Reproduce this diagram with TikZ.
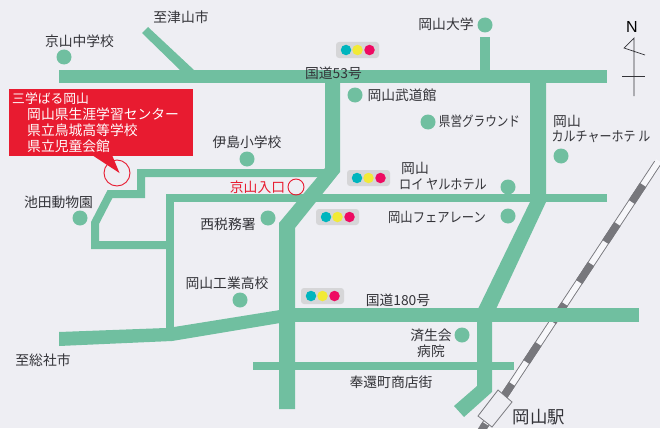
\documentclass[tikz,border=0pt]{standalone}
\usepackage{graphicx}
\usepackage{fontspec}
\setmainfont{Noto Sans CJK JP}
\newfontfamily\latinfont{Liberation Sans}
\definecolor{bgc}{HTML}{EEEEF3}
\definecolor{roadc}{HTML}{70BFA0}
\definecolor{redc}{HTML}{E81B30}
\definecolor{txtc}{HTML}{333338}
\definecolor{railc}{HTML}{77777C}
\definecolor{lampbg}{HTML}{D6D6D8}
\definecolor{lampa}{HTML}{00B5BE}
\definecolor{lampb}{HTML}{F2EA36}
\definecolor{lampc}{HTML}{EE0A62}
\tikzset{
  road/.style={fill=roadc,draw=none},
  thinroad/.style={draw=roadc,line width=8pt,miter limit=10},
  dotmark/.style={circle,fill=roadc,draw=none,minimum size=15pt,inner sep=0pt},
  lbl/.style={text=txtc,inner sep=0pt,font=\fontsize{13.8}{14}\selectfont},
  whitelbl/.style={text=white,inner sep=0pt,anchor=west,font=\fontsize{13.8}{14}\selectfont},
  lamp/.style={circle,draw=none,minimum size=10.5pt,inner sep=0pt},
  lampbox/.style={fill=lampbg,rounded corners=3pt,draw=none},
  declare function={rx(\y)=657.5-(\y-163)*0.6585;}
}
\newcommand{\trafficlight}[3]{%
  \fill[lampbox] (#1-10,#2-8) rectangle (#1+33,#2+8);
  \node[lamp,fill=lampa] (#3a) at (#1,#2) {};
  \node[lamp,fill=lampb] (#3b) at (#1+11.5,#2) {};
  \node[lamp,fill=lampc] (#3c) at (#1+23.5,#2) {};
}
\newcommand{\narrowtext}[2]{\scalebox{#1}[1]{#2}}
\begin{document}
\begin{tikzpicture}[x=1pt,y=-1pt]
\useasboundingbox (0,0) rectangle (660,428);
\clip (0,0) rectangle (660,428);
\fill[bgc] (0,0) rectangle (660,428);
% railway
\draw[railc,line width=7.6pt] ({rx(163)},163) -- ({rx(428)},428);
\draw[white!55!bgc,line width=5.8pt] ({rx(161)},161) -- ({rx(430)},430);
\foreach \a/\b in {185/202,224/242,264/282,304/322,344/362,384/402,424/442}
  \draw[railc,line width=7.6pt] ({rx(\a)},\a) -- ({rx(\b)},\b);
% thin roads
\draw[thinroad] (330,173) -- (141,173) -- (141,194) -- (110,194) -- (95,223) -- (95,245) -- (170,245);
\draw[thinroad] (607,198) -- (170,198) -- (170,330);
\draw[thinroad] (253,366) -- (514,366);
% wide roads
\fill[road] (59,70) rectangle (607,83);
\fill[road] (142,33) -- (148,27) -- (194,70) -- (180,70) -- cycle;
\fill[road] (480,37) rectangle (490,71);
\fill[road] (325,82) -- (340,82) -- (340,172) -- (295,228) -- (295,409) -- (279,409) -- (279,223) -- (325,168) -- cycle;
\fill[road] (530,82) -- (546,82) -- (546,202) -- (496,309) -- (478,309) -- (530,202) -- cycle;
\fill[road] (294,308) rectangle (639,322);
\fill[road] (59,332) -- (166,328) -- (174,327) -- (280,310) -- (280,323) -- (172,341) -- (59,346) -- cycle;
\fill[road] (477,321) -- (492,321) -- (492,392) -- (464,417) -- (454,406) -- (477,386) -- cycle;
% station
\draw[railc,fill=bgc,line width=.8pt] (498,390) -- (512,402) -- (492,427) -- (478,416) -- cycle;
% north
\node[text=black,inner sep=0pt,font=\latinfont\fontsize{16}{16}\selectfont] (north) at (632,27) {N};
\draw[txtc,line width=.7pt] (645,55) -- (624,48) -- (634,38) -- (634,96);
\draw[txtc,line width=.7pt] (622,76) -- (645,76);
% traffic lights
\trafficlight{346}{50}{la}
\trafficlight{357}{178}{lb}
\trafficlight{326}{217}{lc}
\trafficlight{311}{296}{ld}
% dots
\node[dotmark] (d1) at (64,57) {};
\node[dotmark] (d2) at (247,159) {};
\node[dotmark] (d3) at (355,95) {};
\node[dotmark] (d4) at (428,122) {};
\node[dotmark] (d5) at (561,156) {};
\node[dotmark] (d6) at (508,187) {};
\node[dotmark] (d7) at (508,216) {};
\node[dotmark] (d8) at (485,25) {};
\node[dotmark] (d9) at (80,218) {};
\node[dotmark] (d10) at (268,218) {};
\node[dotmark] (d11) at (240,300) {};
\node[dotmark] (d12) at (462,335) {};
% labels
\node[lbl] (t1) at (181,17) {至津山市};
\node[lbl] (t2) at (79.5,41.5) {京山中学校};
\node[lbl] (t3) at (333.5,73) {国道53号};
\node[lbl] (t4) at (446,24) {岡山大学};
\node[lbl] (t5) at (402,95) {岡山武道館};
\node[lbl] (t6) at (479.5,121.5) {\narrowtext{0.84}{県営グラウンド}};
\node[lbl] (t7) at (567,121.5) {岡山};
\node[lbl] (t8) at (601,137) {\narrowtext{0.87}{カルチャーホテ ル}};
\node[lbl] (t9) at (415,168) {岡山};
\node[lbl] (t10) at (443,184) {\narrowtext{0.88}{ロイ ヤルホテル}};
\node[lbl] (t11) at (437,217) {\narrowtext{0.89}{岡山フェアレーン}};
\node[lbl] (t12) at (398,300) {国道180号};
\node[lbl] (t13) at (431,335) {済生会};
\node[lbl] (t14) at (431,351) {病院};
\node[lbl] (t15) at (391,382) {奉還町商店街};
\node[lbl,font=\fontsize{17.4}{18}\selectfont] (t16) at (539,417) {岡山駅};
\node[lbl] (t17) at (228,224) {西税務署};
\node[lbl] (t18) at (227,283) {岡山工業高校};
\node[lbl] (t19) at (43,360) {至総社市};
\node[lbl] (t20) at (58.5,202) {池田動物園};
\node[lbl] (t21) at (247,142) {伊島小学校};
\node[lbl,text=redc] (t22) at (257.5,187) {京山入口};
\node[circle,draw=redc,line width=.9pt,minimum size=16pt,inner sep=0pt] (c1) at (296,187) {};
% callout
\fill[redc] (9,89) rectangle (193,156);
\fill[redc] (92,155) -- (119.5,173) -- (112,155) -- cycle;
\node[circle,draw=redc,line width=.9pt,minimum size=26pt,inner sep=0pt] (c2) at (117,173) {};
\node[whitelbl,font=\fontsize{12.8}{13}\selectfont] (b1) at (12,99) {三学ばる岡山};
\node[whitelbl] (b2) at (27,114) {岡山県生涯学習センター};
\node[whitelbl] (b3) at (27,130) {県立鳥城高等学校};
\node[whitelbl] (b4) at (27,146) {県立児童会館};
\end{tikzpicture}
\end{document}
